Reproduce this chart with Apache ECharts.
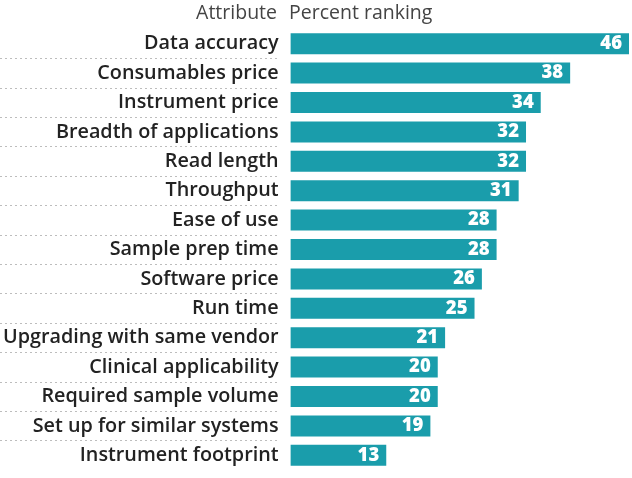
<!DOCTYPE html>
<html>
<head>
<meta charset="utf-8">
<script src="https://cdn.jsdelivr.net/npm/echarts@6/dist/echarts.min.js"></script>
<style>html,body{margin:0;padding:0;background:#fff}#c{width:632px;height:478px}</style>
</head>
<body>
<div id="c"></div>
<script>
const categories = ["Data accuracy","Consumables price","Instrument price","Breadth of applications","Read length","Throughput","Ease of use","Sample prep time","Software price","Run time","Upgrading with same vendor","Clinical applicability","Required sample volume","Set up for similar systems","Instrument footprint"];
const values = [46,38,34,32,32,31,28,28,26,25,21,20,20,19,13];
const headerLeft = "Attribute";
const headerRight = "Percent ranking";

const FONT = "Open Sans";
const chart = echarts.init(document.getElementById('c'), null, {renderer:'canvas'});
chart.setOption({
  animation:false,
  grid:[
    {left:0, width:278, top:29, height:441},
    {left:290, right:3, top:29, height:441}
  ],
  xAxis:[
    {gridIndex:0, type:'value', show:false},
    {gridIndex:1, type:'value', min:0, max:46, show:false}
  ],
  yAxis:[
    {gridIndex:0, type:'category', data:categories, inverse:true,
     axisLine:{show:false}, axisTick:{show:false}, axisLabel:{show:false},
     splitLine:{show:true, showMinLine:false, showMaxLine:false, lineStyle:{type:[2,3], color:'#bdbdbd', width:1}}},
    {gridIndex:1, type:'category', data:categories, inverse:true,
     axisLine:{show:false}, axisTick:{show:false},
     axisLabel:{margin:12, fontFamily:FONT, fontWeight:600, fontSize:19.8, color:'#222'},
     splitLine:{show:false}}
  ],
  graphic:[
    {type:'text', right:355, top:3, style:{text:headerLeft, fontFamily:FONT, fontSize:19.5, fontWeight:400, fill:'#444'}},
    {type:'text', left:289, top:3, style:{text:headerRight, fontFamily:FONT, fontSize:19.5, fontWeight:400, fill:'#444'}}
  ],
  series:[{
    type:'bar', xAxisIndex:1, yAxisIndex:1, data:values, barWidth:21,
    itemStyle:{color:'#1a9dab'},
    label:{show:true, position:'insideRight', distance:7, color:'#fff', fontFamily:FONT, fontWeight:800, fontSize:18.5}
  }]
});
</script>
</body>
</html>
